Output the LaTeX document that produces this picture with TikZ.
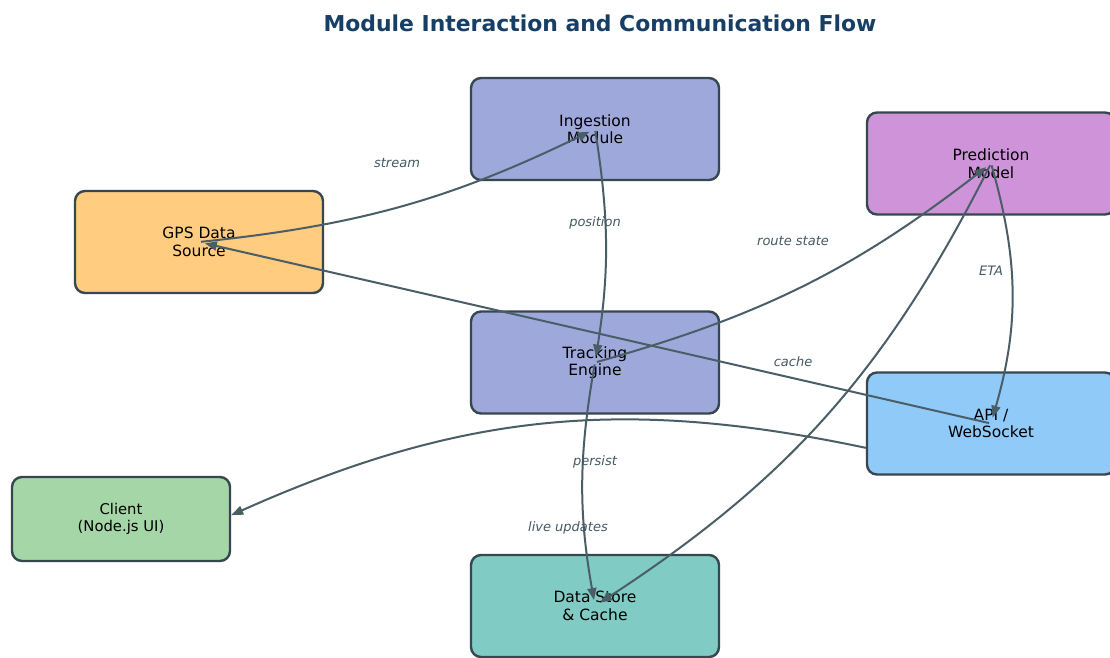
\documentclass[tikz,border=0pt]{standalone}
\usepackage{fontspec}
\setmainfont{DejaVu Sans}[ItalicFont={DejaVu Sans Oblique},BoldFont={DejaVu Sans Bold}]
\usetikzlibrary{arrows.meta}
\definecolor{bordercol}{HTML}{37474F}
\definecolor{edgecol}{HTML}{4A5E68}
\definecolor{lblcol}{HTML}{455A64}
\definecolor{titlecol}{HTML}{173F66}
\definecolor{ingcol}{HTML}{9FA8DA}
\definecolor{predcol}{HTML}{CE93D8}
\definecolor{gpscol}{HTML}{FFCC80}
\definecolor{apicol}{HTML}{90CAF9}
\definecolor{clientcol}{HTML}{A5D6A7}
\definecolor{dscol}{HTML}{80CBC4}
\begin{document}
\begin{tikzpicture}[x=1pt,y=-1pt,
  box/.style={draw=bordercol, line width=2.4pt, rounded corners=10pt,
    minimum width=248pt, minimum height=102pt, align=center, inner sep=0pt,
    font=\fontsize{15.5}{17.5}\selectfont},
  edge/.style={draw=edgecol, line width=2pt, -{Triangle[length=12pt,width=9pt]},
    shorten >=6pt, shorten <=2pt},
  lbl/.style={font=\fontsize{13}{15}\selectfont\itshape, text=lblcol}]
\clip (0,0) rectangle (1110,657);
\fill[white] (0,0) rectangle (1110,657);
\node[font=\fontsize{21.9}{24}\selectfont\bfseries, text=titlecol] (title) at (600,23) {Module Interaction and Communication Flow};
\node[box, fill=ingcol] (ing) at (595,129) {Ingestion\\Module};
\node[box, fill=ingcol] (trk) at (595,362.5) {Tracking\\Engine};
\node[box, fill=dscol] (ds) at (595,606) {Data Store\\\& Cache};
\node[box, fill=gpscol] (gps) at (199,242) {GPS Data\\Source};
\node[box, fill=predcol] (pred) at (991,163.5) {Prediction\\Model};
\node[box, fill=apicol] (api) at (991,423.5) {API /\\WebSocket};
\node[box, fill=clientcol, minimum width=218pt, minimum height=84pt,
  font=\fontsize{14.8}{17}\selectfont] (cli) at (121,519) {Client\\(Node.js UI)};
% edges
\draw[edge] (gps.center) to[bend right=10] (ing.center);
\draw[edge] (ing.center) to[bend left=9] (trk.center);
\draw[edge] (trk.center) to[bend right=11] (pred.center);
\draw[edge] (pred.center) to[bend left=16] (api.center);
\draw[edge] (api.center) -- (gps.center);
\draw[edge] (pred.center) to[bend left=15] (ds.center);
\draw[edge] (trk.center) to[bend right=10] (ds.center);
\draw[edge, shorten >=0pt, shorten <=0pt] (api.191) to[bend right=18] (cli.2);
% labels
\node[lbl] (lstream) at (397,163) {stream};
\node[lbl] (lpos) at (595,223) {position};
\node[lbl] (lroute) at (793,241) {route state};
\node[lbl] (leta) at (991,271) {ETA};
\node[lbl] (lcache) at (793,362) {cache};
\node[lbl] (lpersist) at (595,462) {persist};
\node[lbl] (llive) at (568,528) {live updates};
\end{tikzpicture}
\end{document}
